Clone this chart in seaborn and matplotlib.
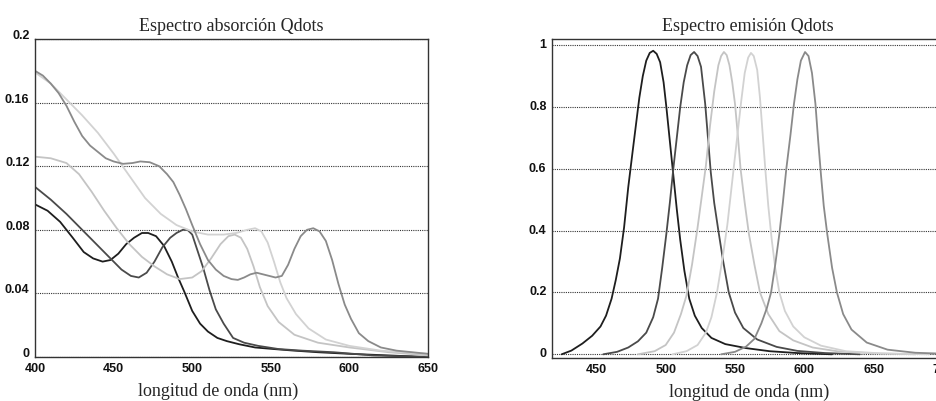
import matplotlib
matplotlib.use("Agg")
import matplotlib.pyplot as plt
import seaborn as sns
import pandas as pd

# --- absorption spectra (left panel) ---
abs1_wl = [400, 408, 416, 424, 431, 437, 443, 448, 453, 458, 463, 468, 472, 477, 482, 487,
           491, 495, 500, 505, 510, 516, 522, 530, 540, 552, 565, 580, 600, 625, 650]
abs1_val = [0.096, 0.092, 0.085, 0.075, 0.066, 0.062, 0.060, 0.061, 0.065, 0.071, 0.075, 0.078,
            0.078, 0.076, 0.070, 0.060, 0.050, 0.041, 0.029, 0.021, 0.016, 0.012, 0.010, 0.008,
            0.006, 0.005, 0.004, 0.003, 0.002, 0.001, 0.0]

abs2_wl = [400, 410, 420, 430, 440, 448, 455, 461, 466, 471, 476, 481, 486, 490, 494, 497,
           500, 503, 507, 511, 515, 520, 526, 533, 542, 555, 570, 590, 615, 650]
abs2_val = [0.107, 0.099, 0.090, 0.080, 0.070, 0.062, 0.055, 0.051, 0.050, 0.053, 0.060, 0.069,
            0.075, 0.078, 0.080, 0.080, 0.077, 0.068, 0.056, 0.042, 0.030, 0.021, 0.012, 0.009,
            0.007, 0.005, 0.004, 0.003, 0.001, 0.0]

abs3_wl = [400, 410, 420, 428, 436, 444, 452, 460, 468, 476, 484, 492, 500, 506, 512, 518,
           523, 527, 531, 535, 539, 543, 548, 555, 565, 580, 600, 625, 650]
abs3_val = [0.126, 0.125, 0.122, 0.115, 0.104, 0.092, 0.081, 0.071, 0.063, 0.057, 0.052, 0.049,
            0.050, 0.054, 0.062, 0.071, 0.076, 0.077, 0.075, 0.068, 0.057, 0.044, 0.032, 0.022,
            0.014, 0.009, 0.006, 0.003, 0.001]

abs4_wl = [400, 410, 420, 430, 440, 450, 460, 470, 480, 490, 500, 510, 520, 528, 535, 540,
           544, 548, 552, 556, 560, 566, 574, 585, 600, 620, 650]
abs4_val = [0.179, 0.172, 0.162, 0.152, 0.141, 0.128, 0.114, 0.100, 0.090, 0.083, 0.079, 0.077,
            0.077, 0.078, 0.080, 0.081, 0.079, 0.072, 0.060, 0.047, 0.037, 0.027, 0.018, 0.011,
            0.007, 0.004, 0.002]

abs5_wl = [400, 405, 410, 415, 420, 425, 430, 435, 440, 445, 450, 456, 462, 467, 473, 479,
           484, 488, 492, 496, 500, 505, 510, 515, 520, 525, 529, 533, 537, 541, 545, 549,
           553, 557, 561, 565, 569, 573, 577, 581, 585, 589, 593, 597, 601, 606, 612, 620,
           630, 640, 650]
abs5_val = [0.180, 0.177, 0.172, 0.166, 0.158, 0.148, 0.139, 0.133, 0.129, 0.125, 0.123, 0.1215,
            0.122, 0.123, 0.1225, 0.120, 0.115, 0.110, 0.102, 0.093, 0.083, 0.071, 0.061, 0.055,
            0.051, 0.049, 0.0485, 0.050, 0.052, 0.053, 0.052, 0.051, 0.050, 0.051, 0.058, 0.068,
            0.076, 0.080, 0.081, 0.079, 0.073, 0.061, 0.046, 0.033, 0.024, 0.015, 0.010, 0.006,
            0.004, 0.003, 0.002]

# --- emission spectra (right panel) ---
em1_wl = [425, 432, 440, 447, 453, 457, 461, 464, 467, 470, 473, 476, 478.5, 481, 483.5, 486,
          488.5, 491, 493.5, 496, 498.5, 500.5, 503, 505.5, 508, 510.5, 513.5, 517, 521, 526,
          533, 543, 558, 575, 595, 620]
em1_val = [0.0, 0.012, 0.035, 0.06, 0.09, 0.125, 0.18, 0.24, 0.31, 0.41, 0.54, 0.65, 0.74,
           0.83, 0.90, 0.95, 0.975, 0.982, 0.972, 0.945, 0.88, 0.80, 0.69, 0.58, 0.47, 0.37,
           0.27, 0.18, 0.125, 0.085, 0.053, 0.033, 0.02, 0.01, 0.004, 0.0]

em2_wl = [455, 465, 473, 480, 486, 491, 494.5, 497.5, 500.5, 503, 505.5, 508, 510.5, 513,
          515.5, 518, 520.5, 523, 525.5, 528.5, 530.5, 532.5, 535, 538, 541.5, 545.5, 550, 556,
          566, 580, 595, 615, 640]
em2_val = [0.0, 0.008, 0.022, 0.042, 0.07, 0.12, 0.18, 0.28, 0.39, 0.49, 0.60, 0.70, 0.80,
           0.88, 0.935, 0.968, 0.978, 0.965, 0.93, 0.81, 0.70, 0.59, 0.49, 0.40, 0.30, 0.20,
           0.135, 0.085, 0.048, 0.024, 0.011, 0.004, 0.0]

em3_wl = [480, 492, 500, 506, 511, 515, 519, 523, 526, 529, 532, 535, 538, 540, 542, 544,
          546, 548, 550, 552, 554, 557, 560, 564, 568, 574, 582, 592, 606, 625, 650, 680]
em3_val = [0.0, 0.01, 0.03, 0.07, 0.13, 0.19, 0.29, 0.41, 0.51, 0.61, 0.74, 0.85, 0.935,
           0.965, 0.978, 0.968, 0.935, 0.88, 0.81, 0.71, 0.60, 0.49, 0.39, 0.29, 0.20, 0.13,
           0.075, 0.045, 0.022, 0.009, 0.003, 0.0]

em4_wl = [505, 515, 523, 529, 533, 537, 541, 544.5, 547, 549.5, 552, 554.5, 557, 559.5, 561.5,
          563.5, 566, 568, 570, 572, 574, 576.5, 579, 582, 586, 592, 600, 612, 630, 655, 690]
em4_val = [0.0, 0.01, 0.03, 0.07, 0.12, 0.20, 0.31, 0.42, 0.52, 0.62, 0.72, 0.82, 0.91, 0.96,
           0.975, 0.965, 0.92, 0.83, 0.71, 0.59, 0.48, 0.37, 0.28, 0.20, 0.14, 0.09, 0.055,
           0.028, 0.01, 0.003, 0.0]

em5_wl = [540, 550, 558, 564, 569, 573, 576, 579, 582, 584.5, 587, 590, 592.5, 595, 597.5,
          600.5, 603, 605.5, 608, 610, 612, 614, 616.5, 620, 623.5, 628, 634, 645, 660, 680, 700]
em5_val = [0.0, 0.008, 0.025, 0.05, 0.10, 0.15, 0.20, 0.29, 0.39, 0.49, 0.60, 0.71, 0.81,
           0.89, 0.95, 0.978, 0.965, 0.91, 0.81, 0.69, 0.58, 0.48, 0.39, 0.28, 0.20, 0.13,
           0.08, 0.038, 0.015, 0.005, 0.002]

abs_curves = [(abs1_wl, abs1_val, "#1e1e1e"), (abs2_wl, abs2_val, "#4a4a4a"),
              (abs3_wl, abs3_val, "#c4c4c4"), (abs4_wl, abs4_val, "#d2d2d2"),
              (abs5_wl, abs5_val, "#8a8a8a")]
em_curves = [(em1_wl, em1_val, "#1e1e1e"), (em2_wl, em2_val, "#4a4a4a"),
             (em3_wl, em3_val, "#c4c4c4"), (em4_wl, em4_val, "#d2d2d2"),
             (em5_wl, em5_val, "#8a8a8a")]

sns.set_style("white")
plt.rcParams["font.family"] = ["Liberation Serif", "DejaVu Serif"]

TICK_FONT = dict(family=["Liberation Sans", "DejaVu Sans"], weight="bold", size=9)


def draw_panel(ax, curves, title, xlim, ylim, xticks, yticks, ylabels, label_x, yva):
    for wl, val, col in curves:
        df = pd.DataFrame({"wl": wl, "val": val})
        sns.lineplot(data=df, x="wl", y="val", ax=ax, color=col, linewidth=1.3)
    ax.set_xlim(*xlim)
    ax.set_ylim(*ylim)
    ax.set_xticks(xticks)
    ax.set_xticklabels([str(t) for t in xticks], **TICK_FONT)
    ax.set_yticks(yticks)
    ax.set_yticklabels(ylabels, va=yva, **TICK_FONT)
    for y in yticks:
        ax.axhline(y, color="#333333", linestyle=(0, (1, 1)), linewidth=0.8, zorder=0)
    for s in ax.spines.values():
        s.set_color("#333333")
        s.set_linewidth(1.0)
    ax.tick_params(length=2, pad=2, colors="#111111")
    ax.set_title(title, fontsize=13, pad=6)
    ax.set_xlabel("longitud de onda (nm)", fontsize=13)
    ax.xaxis.set_label_coords(label_x, -0.082)
    ax.set_ylabel("")


fig = plt.figure(figsize=(9.36, 4.01), dpi=100)
ax1 = fig.add_axes([0.0374, 0.1097, 0.4199, 0.793])
ax2 = fig.add_axes([0.5897, 0.1072, 0.4178, 0.7955])

draw_panel(ax1, abs_curves, "Espectro absorción Qdots", (400, 650), (0, 0.2),
           [400, 450, 500, 550, 600, 650], [0, 0.04, 0.08, 0.12, 0.16, 0.2],
           ["0", "0.04", "0.08", "0.12", "0.16", "0.2"], 0.466, "baseline")
draw_panel(ax2, em_curves, "Espectro emisión Qdots", (418, 700), (-0.012, 1.02),
           [450, 500, 550, 600, 650, 700], [0, 0.2, 0.4, 0.6, 0.8, 1],
           ["0", "0.2", "0.4", "0.6", "0.8", "1"], 0.503, "center")

fig.savefig("out.png", dpi=100)
